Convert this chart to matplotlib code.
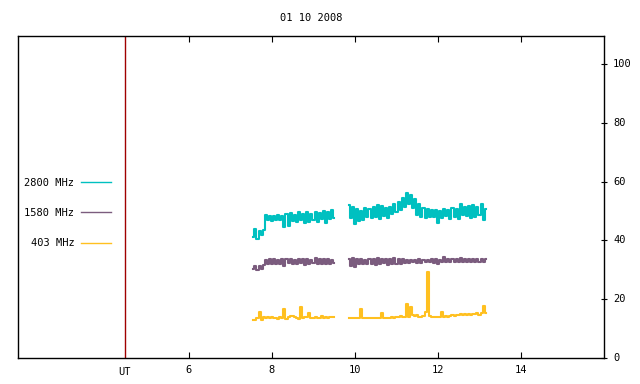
#!/usr/bin/env python3
# -*- coding: utf-8 -*-
"""Radio flux at 2800 / 1580 / 403 MHz, 01 10 2008 (gnuplot-style)."""

import matplotlib
matplotlib.use("Agg")
import matplotlib.pyplot as plt
import numpy as np

plt.rcParams["font.family"] = ["DejaVu Sans Mono"]
plt.rcParams["font.size"] = 7.5

TITLE = "01 10 2008"
UT_MARK = 4.45                       # position of red "UT" line (hours)
X_TICKS = [6, 8, 10, 12, 14]
Y_TICKS = [0, 20, 40, 60, 80, 100]

# two observing sessions, sampled every 0.05 h
SEG1_START, SEG1_END = 7.55, 9.50
SEG2_START, SEG2_END = 9.85, 13.15

f2800_seg1 = [41.0, 43.8, 40.5, 43.2, 41.8, 43.5,
              48.5, 46.8, 48.2, 46.5, 48.4, 47.0, 48.6, 46.9, 48.3, 44.5,
              48.8, 45.0, 49.2, 46.5, 48.7, 46.2, 49.5, 46.8, 48.9, 45.8,
              49.6, 46.4, 49.0, 47.0, 49.8, 46.2, 49.4, 47.3, 50.0, 46.0,
              49.7, 47.4, 50.2, 47.6]
f2800_seg2 = [52.0, 47.5, 51.5, 45.5, 50.5, 46.5, 50.0, 47.0, 51.0, 47.8,
              50.8, 47.5, 51.5, 48.0, 52.0, 47.2, 51.8, 48.3, 51.0, 47.6,
              51.5, 48.8, 52.5, 49.5, 53.0, 50.2, 54.5, 51.5, 56.0, 52.5,
              55.5, 51.0, 54.0, 48.5, 52.5, 48.0, 51.0, 47.5, 50.5, 48.0,
              50.2, 47.8, 50.4, 45.8, 50.0, 47.5, 50.6, 48.2, 50.3, 47.4,
              51.0, 48.0, 50.8, 47.2, 52.5, 48.5, 51.5, 48.4, 51.8, 47.6,
              52.0, 48.0, 51.2, 48.6, 52.5, 47.0, 50.5]

f1580_seg1 = [30.2, 31.4, 29.8, 31.2, 30.4, 31.5,
              33.4, 32.0, 33.5, 31.8, 33.6, 32.1, 33.3, 31.9, 33.7, 31.2,
              33.5, 32.2, 33.8, 31.9, 33.4, 32.0, 33.6, 32.3, 33.5, 31.6,
              33.7, 32.0, 33.3, 32.2, 33.9, 31.8, 33.5, 32.1, 33.6, 31.9,
              33.8, 32.0, 33.4, 32.2]
f1580_seg2 = [33.8, 31.2, 34.0, 31.0, 33.5, 31.8, 33.6, 32.0, 33.4, 31.9,
              33.8, 32.1, 33.7, 31.5, 33.9, 32.0, 33.5, 32.2, 33.6, 31.6,
              33.8, 32.0, 34.0, 32.1, 33.5, 31.8, 33.7, 32.3, 33.4, 32.4,
              33.2, 32.5, 33.3, 32.4, 33.5, 32.2, 33.4, 32.6, 33.3, 32.5,
              33.6, 32.4, 33.5, 31.8, 33.4, 32.6, 34.3, 32.5, 33.8, 32.6,
              33.5, 32.7, 33.6, 32.5, 33.9, 32.6, 33.7, 32.8, 33.6, 32.7,
              33.8, 32.6, 33.7, 32.7, 33.6, 32.6, 33.5]

f403_seg1 = [13.0, 12.8, 13.6, 15.6, 12.9, 13.8, 13.7, 14.0, 13.6, 13.9,
             13.5, 13.7, 13.4, 13.8, 13.6, 16.7, 13.4, 14.0, 14.2, 14.3,
             14.1, 13.6, 13.4, 17.3, 13.5, 13.9, 14.0, 15.2, 13.6, 13.5,
             13.8, 13.6, 13.7, 14.4, 13.6, 13.8, 13.7, 13.9, 13.8, 13.9]
f403_seg2 = [13.6, 13.5, 13.7, 13.5, 13.6, 13.5, 16.6, 13.6, 13.5, 13.6,
             13.5, 13.6, 13.5, 13.6, 13.5, 13.7, 15.2, 13.6, 13.5, 13.7,
             13.6, 13.8, 13.7, 14.0, 13.8, 14.2, 13.9, 14.0, 18.2, 13.9,
             17.2, 14.6, 14.3, 14.5, 14.1, 14.0, 14.2, 15.5, 29.3, 14.2,
             14.0, 14.1, 13.9, 14.0, 14.1, 15.7, 14.0, 14.3, 14.1, 14.2,
             14.5, 14.4, 14.7, 14.6, 14.8, 14.6, 14.9, 14.7, 15.0, 14.6,
             15.1, 14.8, 15.2, 14.7, 15.3, 17.6, 15.4]

SERIES = [
    ("2800 MHz", "#00c0c0", f2800_seg1, f2800_seg2),
    ("1580 MHz", "#7b5c7e", f1580_seg1, f1580_seg2),
    ("403 MHz", "#ffc020", f403_seg1, f403_seg2),
]


def main() -> None:
    fig = plt.figure(figsize=(6.4, 3.84), dpi=100)
    ax = fig.add_axes([18 / 640, 26 / 384, 586 / 640, 322 / 384])

    for label, color, seg1, seg2 in SERIES:
        t1 = np.linspace(SEG1_START, SEG1_END, len(seg1))
        t2 = np.linspace(SEG2_START, SEG2_END, len(seg2))
        # steps give the column-by-column look of the original raster plot
        ax.plot(t1, seg1, color=color, lw=1.5, drawstyle="steps-mid",
                label=label)
        ax.plot(t2, seg2, color=color, lw=1.5, drawstyle="steps-mid")

    ax.axvline(UT_MARK, color="#a00000", lw=1.0)

    ax.set_xlim(1.88, 16.0)
    ax.set_ylim(0, 109.5)

    ax.set_xticks(X_TICKS)
    ax.set_xticklabels([str(v) for v in X_TICKS])
    ax.tick_params(axis="x", direction="in", length=4, top=True, bottom=True,
                   pad=5, color="black")
    ax.text(UT_MARK, -0.028, "UT", transform=ax.get_xaxis_transform(),
            ha="center", va="top")

    ax.yaxis.tick_right()
    ax.set_yticks(Y_TICKS)
    ax.tick_params(axis="y", direction="inout", length=5, left=False,
                   right=True, pad=4)
    for lbl in ax.get_yticklabels():
        lbl.set_verticalalignment("center")

    for sp in ax.spines.values():
        sp.set_linewidth(1.0)
        sp.set_color("black")

    ax.set_title(TITLE, fontsize=7.5, pad=11)

    leg = ax.legend(loc="center left", bbox_to_anchor=(-0.005, 0.45),
                    frameon=False, markerfirst=False, handlelength=2.9,
                    handletextpad=0.6, labelspacing=1.95, fontsize=7.5)
    for line in leg.get_lines():
        line.set_linewidth(1.0)

    fig.savefig("out.png", dpi=100)


if __name__ == "__main__":
    main()
